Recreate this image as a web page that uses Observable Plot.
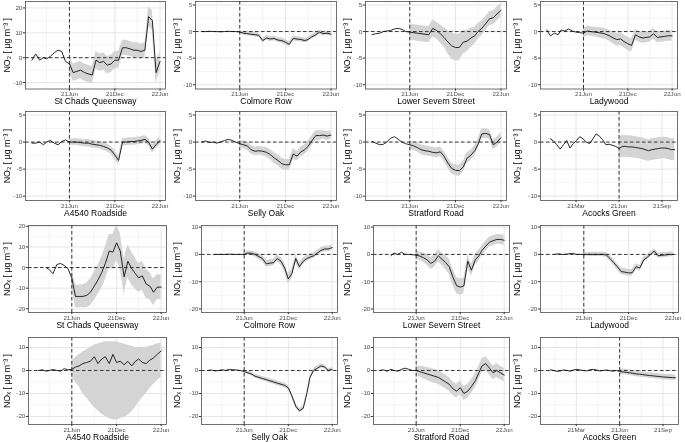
<!DOCTYPE html>
<html><head><meta charset="utf-8">
<script src="https://cdn.jsdelivr.net/npm/d3@7"></script>
<script src="https://cdn.jsdelivr.net/npm/@observablehq/plot@0.6"></script>
<style>
html,body{margin:0;padding:0;background:#fff;}
#chart{position:relative;width:685px;height:442px;overflow:hidden;background:#fff;}
#chart svg{position:absolute;background:transparent;overflow:visible;will-change:transform;}
</style></head><body><div id="chart"></div>
<script>
const N = null;
// ---- categories / tick labels ----
const stations = ["St Chads Queensway","Colmore Row","Lower Severn Street","Ladywood","A4540 Roadside","Selly Oak","Stratford Road","Acocks Green"];
const interventionDate = "2021-06-01";
const dates = ["2021-01-01","2021-01-16","2021-02-01","2021-02-16","2021-03-01","2021-03-16","2021-04-01","2021-04-16","2021-05-01","2021-05-16",
  "2021-06-01","2021-06-16","2021-07-01","2021-07-16","2021-08-01","2021-08-16","2021-09-01","2021-09-16","2021-10-01","2021-10-16",
  "2021-11-01","2021-11-16","2021-12-01","2021-12-16","2022-01-01","2022-01-16","2022-02-01","2022-02-16","2022-03-01","2022-03-16",
  "2022-04-01","2022-04-16","2022-05-01","2022-05-16","2022-06-01"];
const acocksDates = ["2021-01-05","2021-01-12","2021-01-19","2021-01-26","2021-02-02","2021-02-09","2021-02-16","2021-02-23","2021-03-02","2021-03-09",
  "2021-03-16","2021-03-23","2021-03-30","2021-04-06","2021-04-13","2021-04-20","2021-04-27","2021-05-04","2021-05-11","2021-05-18",
  "2021-05-25","2021-06-01","2021-06-08","2021-06-15","2021-06-22","2021-06-29","2021-07-06","2021-07-13","2021-07-20","2021-07-27",
  "2021-08-03","2021-08-10","2021-08-17","2021-08-24","2021-08-31","2021-09-07","2021-09-14","2021-09-21","2021-09-28"];
const xTickDates = ["2021-06-01","2021-12-01","2022-06-01"];
const xMinorDates = ["2021-03-01","2021-09-01","2022-03-01"];
const acocksTickDates = ["2021-03-01","2021-06-01","2021-09-01"];
const acocksMinorDates = ["2021-01-15","2021-04-16","2021-07-17"];
const no2Ticks = [-10,-5,0,5];
const no2Minor = [-7.5,-2.5,2.5];
const stChadsNo2Ticks = [-10,0,10,20];
const stChadsNo2Minor = [-5,5,15];
const noxTicks = [-20,-10,0,10];
const noxMinor = [-15,-5,5];
const stChadsNoxTicks = [-20,-10,0,10,20];
const stChadsNoxMinor = [-15,-5,5,15];

// ---- NO2 series (difference, µg m-3) and ribbon half-widths ----
const no2StChads = [-1,1.5,-1,0,-0.5,0.5,2,3,2.5,-1.5,-2.5,-6,-5.5,-5,-6,-6.5,-7,-1,-2,-1.5,-3,-2.5,-1,-1,4,4,3.5,3,3,2.5,3,16.5,15,-6,-1.5];
const no2StChadsCI = [N,N,N,N,N,N,N,N,N,N,3.5,3.5,3.5,3.5,3.5,3.5,3.5,3.5,3.5,3.5,3.5,3.5,3.5,3.5,3,3,3,3,3,3,3,4,4,4.5,4];
const no2Colmore = [0,0,0.05,0,0,-0.05,0,0.05,0,0,-0.1,-0.3,-0.4,-0.5,-0.6,-0.7,-1.7,-1.2,-1.4,-1.3,-1.6,-1.7,-2.0,-2.4,-1.3,-1.4,-1.5,-1.7,-1.5,-1.0,-0.6,-0.1,-0.4,-0.3,-0.5];
const no2ColmoreCI = [N,N,N,N,N,N,N,N,N,N,0.3,0.35,0.35,0.4,0.4,0.4,0.45,0.45,0.45,0.45,0.45,0.5,0.5,0.5,0.45,0.45,0.45,0.45,0.45,0.45,0.45,0.4,0.4,0.4,0.4];
const no2LowerSevern = [-0.6,-0.4,-0.3,0,0.1,0.2,0.5,0.6,0.4,0,-0.1,-0.2,-0.3,-0.4,-0.5,-0.6,0.6,0.2,-0.4,-1.1,-2.0,-2.7,-3.0,-3.0,-2.0,-1.8,-1.2,-0.8,0,0.6,1.5,2.4,2.6,3.3,4.0];
const no2LowerSevernCI = [N,N,N,N,N,N,N,N,N,N,1.5,1.5,1.5,1.5,1.5,1.5,1.6,1.6,1.7,1.8,2.2,2.5,2.5,2.5,2.2,2,1.8,1.6,1.5,1.4,1.3,1.3,1.3,1.3,1.3];
const no2Ladywood = [0.3,-0.8,-0.3,-0.6,0.3,0.1,0.5,0.1,-0.1,-0.2,-0.3,0.1,0,-0.1,-0.2,-0.3,-0.5,-0.8,-1.2,-1.5,-1.4,-1.9,-2.3,-2.6,-0.6,-1.0,-1.2,-1.1,-1.0,-0.4,-1.1,-1.0,-0.9,-0.8,-0.8];
const no2LadywoodCI = [N,N,N,N,N,N,N,N,N,N,0.9,0.9,0.9,0.9,0.9,1,1,1,1.1,1.2,1.2,1.2,1.25,1.25,1,1,1,1,1,1,1,1,1,1,1];
const no2A4540 = [-0.2,-0.2,0,-0.5,0,0.3,-0.2,-0.5,0.1,0.4,0,0,0,-0.1,-0.2,-0.2,-0.4,-0.5,-0.6,-0.8,-1.1,-1.5,-2.4,-3.4,0,0,0.1,0.1,0.2,0.3,0.5,0,-1.3,-0.5,0.3];
const no2A4540CI = [N,N,N,N,N,N,N,N,N,N,0.6,0.6,0.6,0.65,0.65,0.7,0.7,0.7,0.7,0.7,0.75,0.75,0.8,0.8,0.7,0.7,0.7,0.7,0.7,0.7,0.7,0.7,0.7,0.7,0.7];
const no2SellyOak = [0,0.2,-0.1,0,-0.2,0,0.3,0.5,0.3,0,-0.3,-0.5,-0.7,-1.4,-1.7,-1.6,-1.7,-1.9,-2.3,-2.9,-3.4,-4.0,-4.2,-4.2,-2.2,-2.6,-1.8,-1.4,-0.8,0.2,1.2,1.2,1.3,1.1,1.3];
const no2SellyOakCI = [N,N,N,N,N,N,N,N,N,N,0.7,0.7,0.8,0.8,0.8,0.8,0.8,0.9,0.9,1,1,1,1,1,1,0.9,0.9,0.9,0.9,0.9,0.9,0.9,0.8,0.8,0.8];
const no2Stratford = [0.1,-0.2,-0.5,-0.4,0,0.7,1.0,0.5,0,-0.3,-0.5,-0.7,-1.0,-1.4,-1.6,-1.7,-1.9,-2.0,-1.8,-2.6,-3.9,-4.9,-5.2,-5.3,-4.6,-3.0,-2.4,-1.6,-0.4,1.5,1.6,1.4,-0.5,0,0.8];
const no2StratfordCI = [N,N,N,N,N,N,N,N,N,N,0.8,0.8,0.85,0.9,0.9,0.9,0.9,0.9,0.9,0.95,1,1,1,1,1,1,0.95,0.9,0.9,0.9,0.9,0.9,0.9,0.9,0.9];
const no2Acocks = [0.6,0.2,-0.5,-1.3,-0.5,0.3,-1.1,-0.3,0.3,1.0,0.6,0,-0.3,0.6,1.5,1.1,0.4,-0.5,-0.4,-0.6,-0.8,-1.2,-0.8,-0.8,-0.9,-0.9,-1.0,-1.1,-1.2,-1.4,-1.6,-1.4,-1.3,-1.2,-1.1,-1.1,-1.2,-1.4,-1.4];
const no2AcocksCI = [N,N,N,N,N,N,N,N,N,N,N,N,N,N,N,N,N,N,N,N,N,2,2,2,2,2,2,2,2,2,2,2,2,2,2,2,2,2,2];

// ---- NOx series ----
const noxStChads = [N,N,N,0,-1,-3,1.5,2,1,-0.5,-5,-14,-14,-14,-13.5,-12,-9,-6,-2.5,2,8,7.5,12,8,-4.5,3,-0.5,-3,-5,-4,-8,-9,-12,-9.5,-9.5];
const noxStChadsCI = [N,N,N,N,N,N,N,N,N,N,4,5.5,5.5,5.5,6,6.5,7,7,7.5,8,8,8.5,8.5,8.5,8.5,8,8,7.5,7,7,7,6.5,6.5,6,6];
const noxColmore = [N,N,0,0,0,0,0.1,0,0,0,0,0.5,0.4,0,-0.8,-1.5,-3.5,-3.2,-3,-1.5,-2.5,-5,-9,-7,-1.5,-4.5,-2.5,-1.5,-1,-0.5,0.5,1.5,2,2,2.5];
const noxColmoreCI = [N,N,N,N,N,N,N,N,N,N,0.6,0.8,0.8,0.9,1,1.2,1.2,1.2,1.2,1.3,1.4,1.6,1.8,1.8,1.5,1.3,1.2,1,1,1,1,1,1,1,1];
const noxLowerSevern = [N,N,N,-0.5,0.5,0,0.8,0,0,-0.1,-0.3,-0.6,-1.2,-2,-3.3,-2.5,-0.5,-1.8,-3,-4.5,-8.5,-11.5,-12,-11.5,-2.5,-5.8,-2,-0.5,1.5,3,4.5,5,5.5,5.5,5.2];
const noxLowerSevernCI = [N,N,N,N,N,N,N,N,N,N,1.5,1.5,1.7,2,2.2,2.2,2.2,2.3,2.5,2.8,3,3,3,2.8,2.5,2.2,2,2,1.8,1.8,1.8,1.8,1.8,1.8,1.8];
const noxLadywood = [N,N,0,0.2,0,0,0.2,0.4,0,0,0,0,0,0,0,0,-0.2,-1.5,-3,-4.5,-6.3,-6.5,-6.8,-6.7,-4.5,-5,-2,-1,0,1.2,-0.5,-0.3,-0.2,0,0];
const noxLadywoodCI = [N,N,N,N,N,N,N,N,N,N,0.7,0.7,0.8,0.8,0.8,0.8,0.9,1,1.1,1.2,1.2,1.2,1.2,1.2,1.1,1,1,0.9,0.9,0.9,0.9,0.9,0.9,0.9,0.9];
const noxA4540 = [N,0,0.3,-0.3,0,0.4,0,-0.3,0.8,0.3,0.5,1.5,2,3,3.5,4,6,3,5,6,3,7,3.5,4,2.5,4,2,4,5,3.5,3,4.5,5.5,7,8.5];
const noxA4540Lo = [N,N,N,N,N,N,N,N,N,N,-3,-5,-7,-10,-12,-14,-16,-17.5,-19,-20,-21,-21.5,-21.5,-21,-20.5,-19.5,-18,-16,-14,-12,-10,-8,-6,-4.5,-3];
const noxA4540Hi = [N,N,N,N,N,N,N,N,N,N,4,5.5,7,8,9,10,11,11.5,12,12.5,12.5,12.5,12.5,12,11.5,11,10.5,10,10,10,10,10.5,11,11.5,12];
const noxSellyOak = [0,0.2,-0.2,0,0.3,0,0.5,0.3,0.2,0,-0.5,-1,-1.5,-2.5,-3,-3.5,-4,-4.5,-5,-5.5,-6,-6.5,-7.5,-11,-15.5,-17.5,-16.5,-10,-3,0,1,2,1.5,0,0.5];
const noxSellyOakCI = [N,N,N,N,N,N,N,N,N,N,0.8,0.8,0.8,0.8,0.9,0.9,0.9,1,1,1,1,1,1,1,1,1,1,0.9,0.9,0.9,0.9,0.9,0.9,0.8,0.8];
const noxStratford = [0,0.3,-0.3,0.5,0,-0.3,0.5,1,0.5,0,0,-0.5,-1,-1.5,-2,-2.5,-3,-4,-5,-6,-8,-9,-7.5,-10,-9,-7,-4.5,-1,2,3,1,-1,0,-1,-2];
const noxStratfordCI = [N,N,N,N,N,N,N,N,N,N,2,2.3,2.6,2.8,3,3,3,3,3,3,3,3,3,3,3,3,3,3,3,3,3,3,3,3,3];
const noxAcocks = [0.3,0,-0.4,-0.2,0.2,0,-0.3,0.2,0.5,0.2,0,-0.2,0.3,0.5,0.2,-0.2,0,0.2,-0.1,-0.3,0,-0.5,-0.6,-0.8,-1,-1.2,-1.5,-1.6,-1.8,-2,-2.2,-2.3,-2.5,-2.6,-2.8,-2.9,-3,-3.1,-3.2];
const noxAcocksCI = [N,N,N,N,N,N,N,N,N,N,N,N,N,N,N,N,N,N,N,N,N,1.2,1.2,1.2,1.2,1.2,1.2,1.2,1.2,1.2,1.2,1.2,1.2,1.2,1.2,1.2,1.2,1.2,1.2];

// ---- panel table built from the arrays ----
const no2Label = "NO\u2082 [ \u00b5g m\u207b\u00b3 ]";
const noxLabel = "NO\u2093 [ \u00b5g m\u207b\u00b3 ]";
const parse = d3.utcParse("%Y-%m-%d");
const regularX = {domain: [parse("2020-12-06"), parse("2022-06-23")], ticks: xTickDates, minor: xMinorDates, dates};
const acocksX = {domain: [parse("2020-12-15"), parse("2021-10-04")], ticks: acocksTickDates, minor: acocksMinorDates, dates: acocksDates};
const no2Y = {domain: [-10.8, 5.65], ticks: no2Ticks, minor: no2Minor};
const noxY = {domain: [-21.3, 10.6], ticks: noxTicks, minor: noxMinor};
const noxY4 = {domain: [-23.5, 14.35], ticks: noxTicks, minor: noxMinor};

const panels = [
  {s: 0, v: no2StChads, ci: no2StChadsCI, X: regularX, Y: {domain: [-12.6, 22.6], ticks: stChadsNo2Ticks, minor: stChadsNo2Minor}, lab: no2Label},
  {s: 1, v: no2Colmore, ci: no2ColmoreCI, X: regularX, Y: no2Y, lab: no2Label},
  {s: 2, v: no2LowerSevern, ci: no2LowerSevernCI, X: regularX, Y: no2Y, lab: no2Label},
  {s: 3, v: no2Ladywood, ci: no2LadywoodCI, X: regularX, Y: no2Y, lab: no2Label},
  {s: 4, v: no2A4540, ci: no2A4540CI, X: regularX, Y: no2Y, lab: no2Label},
  {s: 5, v: no2SellyOak, ci: no2SellyOakCI, X: regularX, Y: no2Y, lab: no2Label},
  {s: 6, v: no2Stratford, ci: no2StratfordCI, X: regularX, Y: no2Y, lab: no2Label},
  {s: 7, v: no2Acocks, ci: no2AcocksCI, X: acocksX, Y: no2Y, lab: no2Label},
  {s: 0, v: noxStChads, ci: noxStChadsCI, X: regularX, Y: {domain: [-21.8, 20.4], ticks: stChadsNoxTicks, minor: stChadsNoxMinor}, lab: noxLabel},
  {s: 1, v: noxColmore, ci: noxColmoreCI, X: regularX, Y: noxY, lab: noxLabel},
  {s: 2, v: noxLowerSevern, ci: noxLowerSevernCI, X: regularX, Y: noxY, lab: noxLabel},
  {s: 3, v: noxLadywood, ci: noxLadywoodCI, X: regularX, Y: noxY, lab: noxLabel},
  {s: 4, v: noxA4540, lo: noxA4540Lo, hi: noxA4540Hi, X: regularX, Y: noxY4, lab: noxLabel},
  {s: 5, v: noxSellyOak, ci: noxSellyOakCI, X: regularX, Y: noxY4, lab: noxLabel},
  {s: 6, v: noxStratford, ci: noxStratfordCI, X: regularX, Y: noxY4, lab: noxLabel},
  {s: 7, v: noxAcocks, ci: noxAcocksCI, X: acocksX, Y: noxY4, lab: noxLabel}
];

// layout (plot-area boxes)
const colStart = [0, 170, 340, 510, 685];
const rowArea = [[1, 88.5], [111, 200], [225, 312], [337, 424]];
const colAreaA = [[25, 165], [195, 336], [365, 506], [540, 677]];
const colAreaB = [[28, 166], [201, 337], [373, 509], [540, 678]];

const FONT = "'Liberation Sans', Arial, Helvetica, sans-serif";
const chart = document.getElementById("chart");
const MT = 3, MB = 24;

panels.forEach((p, k) => {
  const r = Math.floor(k / 4), c = k % 4;
  const [top, bottom] = rowArea[r];
  const [left, right] = (r < 2 ? colAreaA : colAreaB)[c];
  const ML = left - colStart[c], MR = colStart[c + 1] - right;
  const rows = p.X.dates.map((d, i) => {
    const v = p.v[i];
    let lo = null, hi = null;
    if (p.lo) { lo = p.lo[i]; hi = p.hi[i]; }
    else if (v != null && p.ci[i] != null) { lo = v - p.ci[i]; hi = v + p.ci[i]; }
    return {date: parse(d), v, lo, hi};
  });
  const ribbon = rows.filter(d => d.lo != null);
  const line = rows.filter(d => d.v != null);
  const xt = p.X.ticks.map(parse), xm = p.X.minor.map(parse);
  const svg = Plot.plot({
    width: (right - left) + ML + MR,
    height: (bottom - top) + MT + MB,
    marginLeft: ML, marginRight: MR, marginTop: MT, marginBottom: MB,
    style: {fontFamily: FONT, background: "transparent", overflow: "visible"},
    x: {type: "utc", domain: p.X.domain},
    y: {domain: p.Y.domain},
    marks: [
      Plot.gridX(xm, {stroke: "#EDEDED", strokeOpacity: 1, strokeWidth: 0.6}),
      Plot.gridY(p.Y.minor, {stroke: "#EDEDED", strokeOpacity: 1, strokeWidth: 0.6}),
      Plot.gridX(xt, {stroke: "#E6E6E6", strokeOpacity: 1, strokeWidth: 1}),
      Plot.gridY(p.Y.ticks, {stroke: "#E6E6E6", strokeOpacity: 1, strokeWidth: 1}),
      Plot.areaY(ribbon, {x: "date", y1: "lo", y2: "hi", fill: "#D4D4D4", curve: "linear"}),
      Plot.ruleY([0], {stroke: "#222", strokeWidth: 0.9, strokeDasharray: "3.5,2.5"}),
      Plot.ruleX([parse(interventionDate)], {stroke: "#222", strokeWidth: 0.9, strokeDasharray: "3.5,2.5"}),
      Plot.lineY(line, {x: "date", y: "v", stroke: "#111", strokeWidth: 0.9}),
      Plot.frame({stroke: "#4d4d4d", strokeWidth: 0.8}),
      Plot.axisX(xt, {tickFormat: d3.utcFormat("%y%b"), tickSize: 2.2, tickPadding: 0.5, fontSize: 6.2, fill: "#4D4D4D", stroke: "#333", label: null}),
      Plot.axisY(p.Y.ticks, {tickFormat: d => String(d), tickSize: 2.2, tickPadding: 1, fontSize: 6.2, fill: "#4D4D4D", stroke: "#333", label: null}),
      Plot.text([stations[p.s]], {text: d => d, frameAnchor: "bottom", dy: 12.5, fontSize: 8.5, fill: "#000", textAnchor: "middle", lineAnchor: "middle"}),
      Plot.text([p.lab], {text: d => d, frameAnchor: "left", dx: (colStart[c] + 7) - left, rotate: -90, fontSize: 8.8, fill: "#000", textAnchor: "middle", lineAnchor: "middle"})
    ]
  });
  svg.style.left = colStart[c] + "px";
  svg.style.top = (top - MT) + "px";
  chart.appendChild(svg);
});
</script>
</body></html>
